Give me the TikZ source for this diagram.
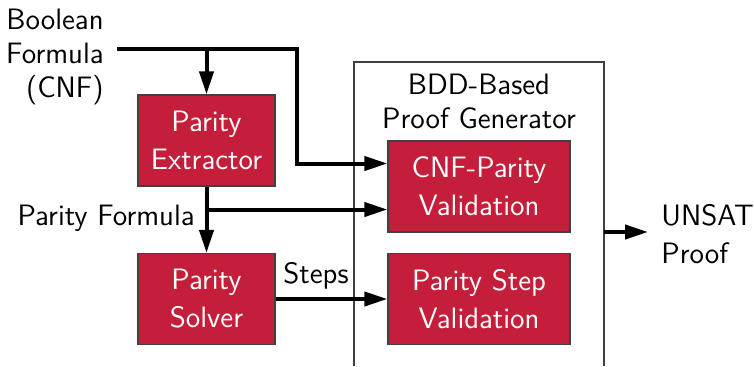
\documentclass[tikz,border=0pt]{standalone}
\usepackage{fontspec}
\usetikzlibrary{arrows.meta}
\definecolor{boxred}{RGB}{196,30,58}
\begin{document}
\begin{tikzpicture}[x=0.5pt,y=-0.5pt,
  lbl/.style={font=\sffamily\fontsize{14.75pt}{17pt}\selectfont, inner sep=0pt},
  big/.style={font=\sffamily\fontsize{14.75pt}{19pt}\selectfont, inner sep=0pt},
  redbox/.style={big, fill=boxred, draw=black!75, line width=0.6pt, text=white,
    align=center, minimum height=45.5pt},
  flow/.style={line width=2pt, -{Triangle[length=11.5pt,width=7pt]}},
  frame/.style={draw=black!75, line width=0.6pt}]
\useasboundingbox (0,0) rectangle (754,366);

% processing blocks
\node[redbox, minimum width=68.5pt] (ext) at (206.5,140.5) {Parity\\Extractor};
\node[redbox, minimum width=68.5pt] (sol) at (206.5,299) {Parity\\Solver};

% proof generator frame (open towards the bottom)
\draw[frame] (354,366) -- (354,62) -- (604,62) -- (604,366);
\node[lbl, align=center] (gen) at (479,101) {BDD-Based\\Proof Generator};
\node[redbox, minimum width=91pt] (cnf) at (479,186.5) {CNF-Parity\\Validation};
\node[redbox, minimum width=91pt] (step) at (479,299) {Parity Step\\Validation};

% inputs and outputs
\node[lbl, align=right, anchor=east] (bf) at (104,57) {Boolean\\Formula\\(CNF)};
\node[big, align=left, anchor=west] (unsat) at (661,234) {UNSAT\\Proof};
\node[lbl, anchor=base east] (pf) at (195,225) {Parity Formula};
\node[lbl, anchor=base west] (st) at (283,283) {Steps};

\coordinate (src) at (117,49);
\coordinate (jog) at (297,49);
\coordinate (cnfA) at ([yshift=11.5pt]cnf.west);
\coordinate (cnfB) at ([yshift=-11.5pt]cnf.west);
\coordinate (outR) at (604,232);
\coordinate (outEnd) at (648,232);

% connectors
\draw[flow] (src) -- (jog) |- (cnfA);
\draw[flow] (ext.north |- src) -- (ext.north);
\draw[flow] (ext.south) -- (sol.north);
\draw[flow] (ext.south |- cnfB) -- (cnfB);
\draw[flow] (sol.east) -- (step.west);
\draw[flow] (outR) -- (outEnd);
\end{tikzpicture}
\end{document}
